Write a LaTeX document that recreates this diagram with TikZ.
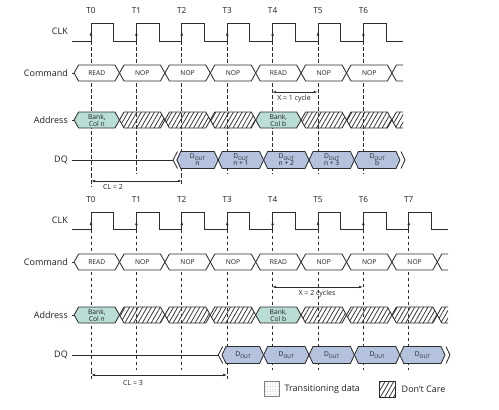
\documentclass[tikz,border=0pt]{standalone}
\usepackage{fontspec}
\setmainfont{Open Sans}
\usetikzlibrary{arrows.meta,patterns.meta}
\definecolor{ln}{RGB}{45,45,45}
\definecolor{txt}{RGB}{30,30,30}
\definecolor{bankc}{RGB}{186,222,214}
\definecolor{doutc}{RGB}{180,194,222}
\newcommand\hexcell[6]{%
  \path[#1] (#2,#4) -- ({#2+#6},{#4-#5}) -- ({#3-#6},{#4-#5}) -- (#3,#4) -- ({#3-#6},{#4+#5}) -- ({#2+#6},{#4+#5}) -- cycle;}
\newcommand\opencell[6]{%
  \path[#1,draw=none] (#2,#4) -- ({#2+#6},{#4-#5}) -- (#3,{#4-#5}) -- (#3,{#4+#5}) -- ({#2+#6},{#4+#5}) -- cycle;
  \draw[wave] (#3,{#4-#5}) -- ({#2+#6},{#4-#5}) -- (#2,#4) -- ({#2+#6},{#4+#5}) -- (#3,{#4+#5});}
\newcommand\dout{D\raisebox{-0.4ex}{\fontsize{5}{5}\selectfont OUT}}
\begin{document}
\begin{tikzpicture}[x=1pt,y=-1pt,
  wave/.style={draw=ln,line width=0.85pt},
  dashv/.style={draw=ln,line width=0.65pt,dash pattern=on 3.5pt off 2.5pt},
  cmdcell/.style={wave,fill=white},
  bankcell/.style={wave,fill=bankc},
  doutcell/.style={wave,fill=doutc},
  hatchcell/.style={wave,pattern={Lines[angle=60,distance=3.8pt,line width=0.75pt]},pattern color=ln},
  celltxt/.style={font=\fontsize{6.7}{7}\selectfont,text=txt,inner sep=0pt,align=center},
  siglab/.style={font=\fontsize{9}{10}\selectfont,text=txt,anchor=east,inner sep=0pt},
  tlab/.style={font=\fontsize{8.2}{9}\selectfont,text=txt,inner sep=0pt},
  annot/.style={font=\fontsize{7}{8}\selectfont,text=txt,inner sep=0pt},
  dim/.style={draw=ln,line width=0.65pt,{Latex[length=4pt,width=2.6pt]}-{Latex[length=4pt,width=2.6pt]}},
  ckarrow/.style={draw=ln,line width=0.85pt,-{Latex[length=4pt,width=2.8pt]}},
  legtxt/.style={font=\fontsize{9}{10}\selectfont,text=txt,anchor=west,inner sep=0pt}]
\useasboundingbox (0,0) rectangle (499,410);

% ================= TOP DIAGRAM =================
\node[siglab] (clkA) at (68,31) {CLK};
\node[siglab] (cmdA) at (68,73) {Command};
\node[siglab] (adrA) at (68,120) {Address};
\node[siglab] (dqA) at (68,160) {DQ};
\foreach \i in {0,...,6}{
  \pgfmathsetmacro\tx{91+45.4*\i}
  \node[tlab] (tA\i) at (\tx,11) {T\i};
  \draw[dashv] (\tx,41) -- (\tx,174);
}
\draw[dashv] (91,174) -- (91,187);
\draw[dashv] (181.8,174) -- (181.8,185);
% clock
\draw[wave] (72,41) foreach \i in {0,...,6}{ -- ({91+45.4*\i},41) -- ({91+45.4*\i},23) -- ({91+45.4*\i+22.7},23) -- ({91+45.4*\i+22.7},41)} -- (403,41);
\foreach \i in {0,...,6}{\draw[ckarrow] ({91+45.4*\i},39) -- ({91+45.4*\i},31.5);}
% command
\draw[wave] (72,73) -- (74.1,73);
\foreach \lab [count=\k from 0] in {READ,NOP,NOP,NOP,READ,NOP,NOP}{
  \pgfmathsetmacro\xa{74.1+45.4*\k}
  \pgfmathsetmacro\xb{\xa+45.4}
  \hexcell{cmdcell}{\xa}{\xb}{73}{8}{4.5}
  \node[celltxt] (cA\k) at ({(\xa+\xb)/2},73) {\lab};
}
\opencell{cmdcell}{391.9}{403}{73}{8}{4.5}
% address
\draw[wave] (72,120) -- (74.1,120);
\foreach \st [count=\k from 0] in {bankcell,hatchcell,hatchcell,hatchcell,bankcell,hatchcell,hatchcell}{
  \pgfmathsetmacro\xa{74.1+45.4*\k}
  \pgfmathsetmacro\xb{\xa+45.4}
  \hexcell{\st}{\xa}{\xb}{120}{8}{4.5}
}
\opencell{hatchcell}{391.9}{403}{120}{8}{4.5}
\node[celltxt] (bA1) at (96.8,120) {Bank,\\Col n};
\node[celltxt] (bA2) at (278.4,120) {Bank,\\Col b};
% DQ
\draw[wave] (72,160) -- (173,160);
\draw[wave] (177.5,151.5) -- (173,160) -- (177.5,168.5);
\hexcell{doutcell}{176.8}{218.2}{160}{8.5}{4}
\hexcell{doutcell}{218.2}{263.6}{160}{8.5}{4}
\hexcell{doutcell}{263.6}{309}{160}{8.5}{4}
\hexcell{doutcell}{309}{354.4}{160}{8.5}{4}
\hexcell{doutcell}{354.4}{400}{160}{8.5}{4}
\draw[wave] (401,151.5) -- (405,160) -- (401,168.5);
\node[celltxt] (dA1) at (197.5,160) {\dout\\n};
\node[celltxt] (dA2) at (240.9,160) {\dout\\n + 1};
\node[celltxt] (dA3) at (286.3,160) {\dout\\n + 2};
\node[celltxt] (dA4) at (331.7,160) {\dout\\n + 3};
\node[celltxt] (dA5) at (377.2,160) {\dout\\b};
% annotations
\coordinate (clA0) at (91,181);
\coordinate (clA1) at (181.8,181);
\draw[dim] (clA0) -- (clA1);
\node[annot] (clA) at (113,187) {CL = 2};
\coordinate (xA0) at (272.2,92);
\coordinate (xA1) at (317.6,92);
\draw[dim] (xA0) -- (xA1);
\node[annot] (xA) at (294,98.5) {X = 1 cycle};

% ================= BOTTOM DIAGRAM =================
\node[siglab] (clkB) at (68,220) {CLK};
\node[siglab] (cmdB) at (68,262) {Command};
\node[siglab] (adrB) at (68,315) {Address};
\node[siglab] (dqB) at (68,355) {DQ};
\foreach \i in {0,...,7}{
  \pgfmathsetmacro\tx{91+45.4*\i}
  \node[tlab] (tB\i) at (\tx,200) {T\i};
  \draw[dashv] (\tx,229.5) -- (\tx,370);
}
\draw[dashv] (91,370) -- (91,379);
\draw[dashv] (227.2,370) -- (227.2,379);
% clock
\draw[wave] (72,229.5) foreach \i in {0,...,7}{ -- ({91+45.4*\i},229.5) -- ({91+45.4*\i},212.5) -- ({91+45.4*\i+22.7},212.5) -- ({91+45.4*\i+22.7},229.5)} -- (448,229.5);
\foreach \i in {0,...,7}{\draw[ckarrow] ({91+45.4*\i},228) -- ({91+45.4*\i},221);}
% command
\draw[wave] (72,262) -- (74.1,262);
\foreach \lab [count=\k from 0] in {READ,NOP,NOP,NOP,READ,NOP,NOP,NOP}{
  \pgfmathsetmacro\xa{74.1+45.4*\k}
  \pgfmathsetmacro\xb{\xa+45.4}
  \hexcell{cmdcell}{\xa}{\xb}{262}{8}{4.5}
  \node[celltxt] (cB\k) at ({(\xa+\xb)/2},262) {\lab};
}
\opencell{cmdcell}{437.3}{448}{262}{8}{4.5}
% address
\draw[wave] (72,315) -- (74.1,315);
\foreach \st [count=\k from 0] in {bankcell,hatchcell,hatchcell,hatchcell,bankcell,hatchcell,hatchcell,hatchcell}{
  \pgfmathsetmacro\xa{74.1+45.4*\k}
  \pgfmathsetmacro\xb{\xa+45.4}
  \hexcell{\st}{\xa}{\xb}{315}{8}{4.5}
}
\opencell{hatchcell}{437.3}{448}{315}{8}{4.5}
\node[celltxt] (bB1) at (96.8,315) {Bank,\\Col n};
\node[celltxt] (bB2) at (278.4,315) {Bank,\\Col b};
% DQ
\draw[wave] (72,355) -- (218.2,355);
\draw[wave] (222.7,346.5) -- (218.2,355) -- (222.7,363.5);
\hexcell{doutcell}{222}{263.6}{355}{8.5}{4}
\hexcell{doutcell}{263.6}{309}{355}{8.5}{4}
\hexcell{doutcell}{309}{354.4}{355}{8.5}{4}
\hexcell{doutcell}{354.4}{399.8}{355}{8.5}{4}
\hexcell{doutcell}{399.8}{445}{355}{8.5}{4}
\draw[wave] (446,346.5) -- (450,355) -- (446,363.5);
\node[celltxt] (dB1) at (243,355) {\dout};
\node[celltxt] (dB2) at (286.3,355) {\dout};
\node[celltxt] (dB3) at (331.7,355) {\dout};
\node[celltxt] (dB4) at (377.1,355) {\dout};
\node[celltxt] (dB5) at (422.4,355) {\dout};
% annotations
\coordinate (clB0) at (91,375);
\coordinate (clB1) at (227.2,375);
\draw[dim] (clB0) -- (clB1);
\node[annot] (clB) at (133,382.5) {CL = 3};
\coordinate (xB0) at (272.2,287);
\coordinate (xB1) at (363,287);
\draw[dim] (xB0) -- (xB1);
\node[annot] (xB) at (317,293.5) {X = 2 cycles};

% ================= LEGEND =================
\path[draw=gray,line width=0.5pt,pattern={Dots[radius=0.35pt,distance=2.6pt]},pattern color=gray] (264,381) rectangle (279,396);
\node[legtxt] (lg1) at (284.5,389) {Transitioning data};
\path[hatchcell,line width=0.6pt] (379,381) rectangle (395,397);
\node[legtxt] (lg2) at (401.5,389) {Don't Care};
\end{tikzpicture}
\end{document}
